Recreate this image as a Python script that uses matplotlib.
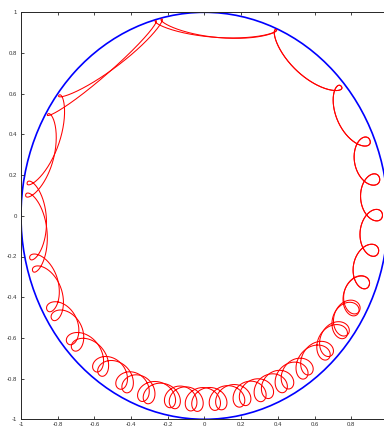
import numpy as np
import matplotlib.pyplot as plt
from matplotlib.patches import Circle
from matplotlib.ticker import FuncFormatter

plt.rcParams['font.family'] = ['Liberation Sans', 'DejaVu Sans']
plt.rcParams['axes.unicode_minus'] = False

# loop tips (degrees, going clockwise), two laps
lap_a_deg = [66.9, 40.5, 22.4, 10.9, 0.2, -10.5, -20.8,
             -29.7, -37.5, -46.0, -55.3, -63.3, -70.9, -78.2, -86.5,
             -94.6, -101.6, -110.9, -118.9, -128.2, -140.1, -151.7,
             -167.7, -189.5, -216.7, -256.4, -293.1]
lap_b_deg = [66.9, 40.5, 22.4, 10.9, 0.2, -10.5, -20.8,
             -29.0, -36.5, -44.5, -53.2, -60.9, -68.2, -76.1, -84.3,
             -92.4, -100.0, -108.9, -116.6, -126.1, -137.6, -148.7,
             -164.0, -186.0, -210.2, -254.5, -293.1]
# how tight each loop is (1 = cusp) and radius of the loop tip
tip_q = [0.56, 0.40, 0.28, 0.26, 0.26, 0.25, 0.27,
         0.29, 0.30, 0.30, 0.30, 0.30, 0.30, 0.30, 0.30,
         0.30, 0.30, 0.30, 0.31, 0.31, 0.33, 0.38,
         0.45, 0.47, 0.50, 0.55, 0.56]
tip_r = [0.995, 0.98, 0.975, 0.972, 0.97, 0.965, 0.96,
         0.965, 0.975, 0.975, 0.97, 0.97, 0.965, 0.96, 0.958,
         0.962, 0.962, 0.975, 0.97, 0.97, 0.975, 0.975,
         0.975, 0.98, 0.99, 0.995, 0.995]
gyro = 0.058

ticks = [-1, -0.8, -0.6, -0.4, -0.2, 0, 0.2, 0.4, 0.6, 0.8, 1]


def loop_path(tips_deg, q, rtip, d, n=200):
    th = np.radians(tips_deg)
    xs, ys = [], []
    for k in range(len(th) - 1):
        sg = -np.sign(th[k + 1] - th[k])
        rg0, rg1 = rtip[k] - d, rtip[k + 1] - d
        s0 = -sg * 2 * np.pi * q[k] * d / rg0
        s1 = -sg * 2 * np.pi * q[k + 1] * d / rg1
        u = np.linspace(0, 1, n, endpoint=(k == len(th) - 2))
        tg = ((2 * u**3 - 3 * u**2 + 1) * th[k] + (u**3 - 2 * u**2 + u) * s0
              + (-2 * u**3 + 3 * u**2) * th[k + 1] + (u**3 - u**2) * s1)
        rg = rg0 + (rg1 - rg0) * u
        phi = 2 * np.pi * u
        rad = rg + d * np.cos(phi)
        tan = d * sg * np.sin(phi)
        xs.append(rad * np.cos(tg) - tan * np.sin(tg))
        ys.append(rad * np.sin(tg) + tan * np.cos(tg))
    return np.concatenate(xs), np.concatenate(ys)


fig = plt.figure(figsize=(3.84, 4.28), dpi=100)
ax = fig.add_axes([21 / 384, 8.7 / 428, 367 / 384, 407 / 428])

for lap in (lap_a_deg, lap_b_deg):
    x, y = loop_path(lap, tip_q, tip_r, gyro)
    ax.plot(x, y, color='#ff0000', lw=0.75)

ax.add_patch(Circle((0, 0), 1, fill=False, edgecolor='#0000ff', lw=1.2))

ax.set_xlim(-1, 1)
ax.set_ylim(-1, 1)
ax.set_xticks(ticks)
ax.set_yticks(ticks)
# the last x label sits past the right edge of the picture, so leave it blank
ax.xaxis.set_major_formatter(FuncFormatter(lambda v, p: '' if v > 0.95 else '%g' % round(v, 1)))
ax.yaxis.set_major_formatter(FuncFormatter(lambda v, p: '%g' % round(v, 1)))
ax.tick_params(direction='in', length=2.2, width=0.6, top=True, right=True,
               labelsize=4.3, labelcolor='#333333', color='#262626')
ax.tick_params(axis='y', pad=3)
ax.tick_params(axis='x', pad=2)
for sp in ax.spines.values():
    sp.set_color('#262626')
    sp.set_linewidth(0.7)

fig.savefig('out.png', dpi=100)
